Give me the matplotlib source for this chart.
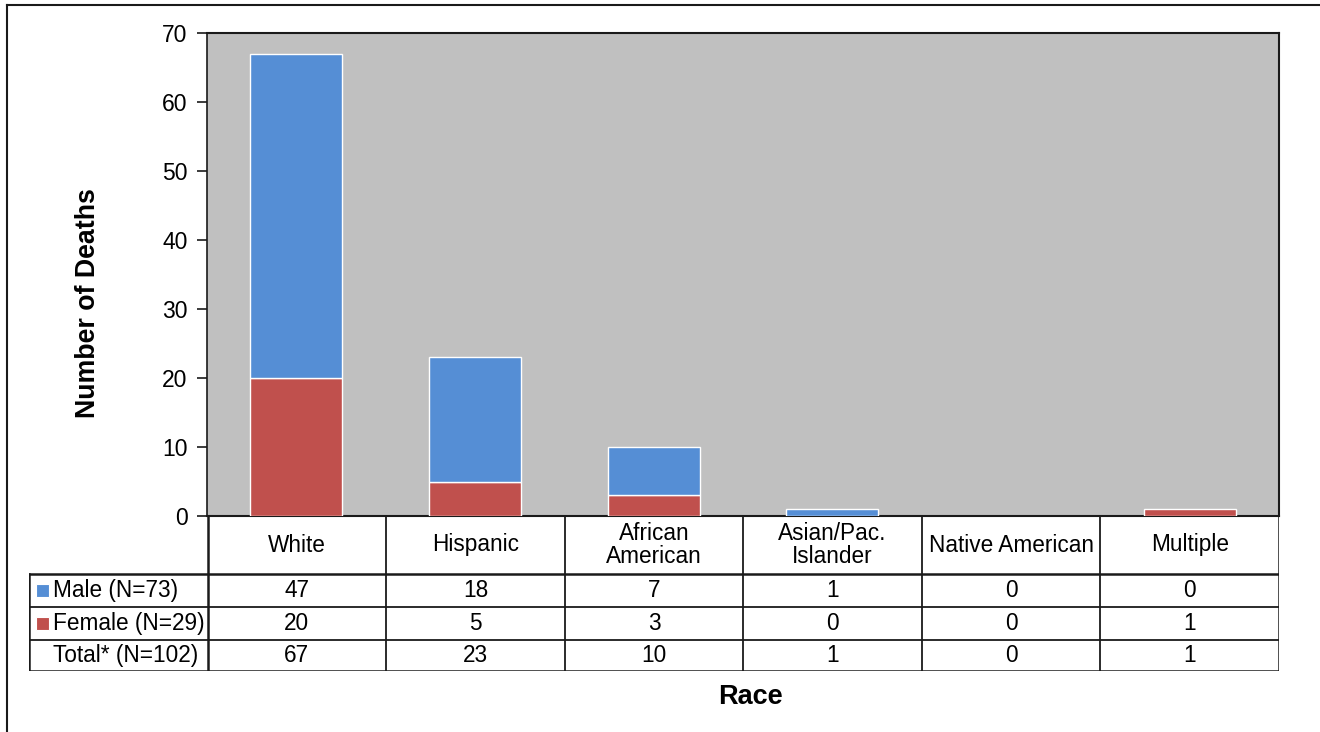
import matplotlib.pyplot as plt
from matplotlib.patches import Rectangle
from matplotlib.lines import Line2D

plt.rcParams['font.family'] = ['Liberation Sans', 'DejaVu Sans']

# Deaths by race and sex
races = ['White', 'Hispanic', 'African\nAmerican', 'Asian/Pac.\nIslander',
         'Native American', 'Multiple']
male = [47, 18, 7, 1, 0, 0]
female = [20, 5, 3, 0, 0, 1]
total = [67, 23, 10, 1, 0, 1]
row_labels = ['Male (N=73)', 'Female (N=29)', 'Total* (N=102)']
yticks = [0, 10, 20, 30, 40, 50, 60, 70]

blue = '#558ED5'
red = '#C0504D'
line_col = '#1a1a1a'
fs = 16.3

W, H = 1320, 732
fig = plt.figure(figsize=(W / 100, H / 100), dpi=100)

# outer frame of the chart object
fig.add_artist(Line2D([7 / W, 7 / W], [0, 1 - 5 / H], transform=fig.transFigure,
                      color=line_col, lw=1.5))
fig.add_artist(Line2D([7 / W, 1], [1 - 5 / H, 1 - 5 / H], transform=fig.transFigure,
                      color=line_col, lw=1.5))

# plot area
ax = fig.add_axes([207 / W, (H - 516) / H, 1072 / W, 483 / H])
ax.set_facecolor('#C0C0C0')
x = list(range(len(races)))
fb = ax.bar(x, female, width=0.515, color=red, edgecolor='white', linewidth=1, zorder=3)
mb = ax.bar(x, male, width=0.515, bottom=female, color=blue, edgecolor='white',
            linewidth=1, zorder=3)
# empty segments leave no outline
for bars, vals in ((fb, female), (mb, male)):
    for b, v in zip(bars, vals):
        if v == 0:
            b.set_visible(False)
ax.set_xlim(-0.5, len(races) - 0.5)
ax.set_ylim(0, 70)
ax.set_yticks(yticks)
ax.tick_params(axis='y', labelsize=16.5, length=7, width=1.2, color=line_col, pad=7)
ax.set_xticks([])
for s in ax.spines.values():
    s.set_color(line_col)
    s.set_linewidth(1.5)
ax.spines['left'].set_linewidth(1.2)
fig.text(88 / W, 1 - 303 / H, 'Number of Deaths', rotation=90, ha='center',
         va='center', fontsize=19.3, fontweight='bold')

# data table below the plot, sharing the category positions
tab = fig.add_axes([29 / W, (H - 671) / H, 1250 / W, 155 / H])
tab.set_xlim(-1.5, len(races) - 0.5)
tab.set_ylim(0, 155)
tab.axis('off')

# row boundaries in table units (top = 155)
y_head_top, y_head_bot = 155, 97
row_bounds = [97, 64, 31, 0]

lw_in = 1.3
lw_out = 1.8
for i in range(len(races) + 1):
    xb = i - 0.5
    tab.plot([xb, xb], [0, y_head_top], color=line_col,
             lw=lw_out if i in (0, len(races)) else lw_in, solid_capstyle='butt')
tab.plot([-1.5, -1.5], [0, y_head_bot], color=line_col, lw=lw_out)
for j, yb in enumerate(row_bounds):
    tab.plot([-1.5, len(races) - 0.5], [yb, yb], color=line_col,
             lw=lw_out if j in (0, 3) else lw_in)

for i, r in enumerate(races):
    tab.text(i, (y_head_top + y_head_bot) / 2, r, ha='center', va='center',
             fontsize=fs, linespacing=1.0)

for j, vals in enumerate([male, female, total]):
    yc = (row_bounds[j] + row_bounds[j + 1]) / 2
    for i, v in enumerate(vals):
        tab.text(i, yc, str(v), ha='center', va='center', fontsize=fs)
    tab.text(-1.5 + 24 / 178.6, yc, row_labels[j], ha='left', va='center', fontsize=fs)

# legend keys in the row label column
for j, c in enumerate([blue, red]):
    yc = (row_bounds[j] + row_bounds[j + 1]) / 2
    tab.add_patch(Rectangle((-1.5 + 7 / 178.6, yc - 6.5), 13 / 178.6, 13,
                            facecolor=c, edgecolor='white', lw=0.8))

fig.text(750 / W, 1 - 697 / H, 'Race', ha='center', va='center', fontsize=19.5,
         fontweight='bold')

fig.savefig('out.png', dpi=100)
